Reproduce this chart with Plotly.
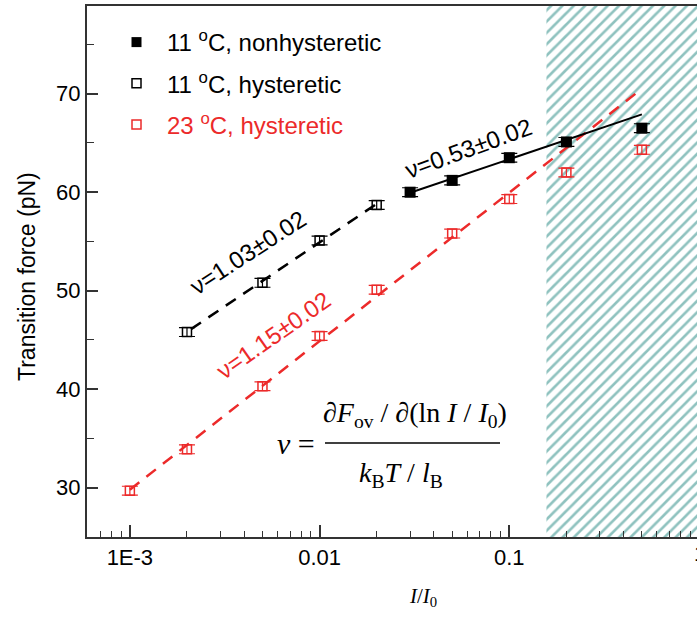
import plotly.graph_objects as go

# ---------------- data ----------------
nonhyst_x = [0.03, 0.05, 0.1, 0.2, 0.5]
nonhyst_y = [60.0, 61.2, 63.5, 65.1, 66.5]

hyst11_x = [0.002, 0.005, 0.01, 0.02]
hyst11_y = [45.8, 50.8, 55.1, 58.7]

hyst23_x = [0.001, 0.002, 0.005, 0.01, 0.02, 0.05, 0.1, 0.2, 0.5]
hyst23_y = [29.7, 33.9, 40.3, 45.4, 50.1, 55.8, 59.3, 62.0, 64.3]

err_nonhyst = [0.45] * len(nonhyst_x)
err_hyst11 = [0.45] * len(hyst11_x)
err_hyst23 = [0.45] * len(hyst23_x)

# fitted lines (end points)
fit_nonhyst_x = [0.03, 0.5]
fit_nonhyst_y = [59.95, 67.9]
fit_hyst11_x = [0.0021, 0.021]
fit_hyst11_y = [46.1, 59.1]
fit_hyst23_x = [0.001, 0.5]
fit_hyst23_y = [29.8, 70.5]

# hatched region (overstretching regime)
hatch_x = [0.157, 3, 3, 0.157, 0.157]
hatch_y = [20, 20, 85, 85, 20]

x_tickvals = [0.001, 0.01, 0.1, 1]
x_ticktext = ["1E-3", "0.01", "0.1", "1"]
y_tickvals = [30, 40, 50, 60, 70]

RED = "#ec2a2a"
TEAL = "#1f8580"
SANS = "Liberation Sans, Arial, sans-serif"
SERIF = "Liberation Serif, Times New Roman, serif"

W, H = 697, 623
ML, MR, MT, MB = 87, 0, 6, 86
PW, PH = W - ML - MR, H - MT - MB


def px(xp):
    return (xp - ML) / PW


def py(yp):
    return (H - MB - yp) / PH


fig = go.Figure()

fig.add_trace(go.Scatter(
    x=hatch_x, y=hatch_y, mode="lines", fill="toself",
    line=dict(width=0), fillcolor="rgba(255,255,255,0)",
    fillpattern=dict(shape="/", fgcolor=TEAL, bgcolor="rgba(255,255,255,0)",
                     size=8, solidity=0.33),
    showlegend=False, hoverinfo="skip"))

# fit lines
fig.add_trace(go.Scatter(x=fit_hyst23_x, y=fit_hyst23_y, mode="lines",
                         line=dict(color=RED, width=2.5, dash="12px,9px"),
                         showlegend=False))
fig.add_trace(go.Scatter(x=fit_hyst11_x, y=fit_hyst11_y, mode="lines",
                         line=dict(color="black", width=2.5, dash="12px,9px"),
                         showlegend=False))
fig.add_trace(go.Scatter(x=fit_nonhyst_x, y=fit_nonhyst_y, mode="lines",
                         line=dict(color="black", width=2),
                         showlegend=False))

# data with error bars
fig.add_trace(go.Scatter(
    x=hyst23_x, y=hyst23_y, mode="markers",
    marker=dict(symbol="square-open", size=9, color=RED, line=dict(width=1.5, color=RED)),
    error_y=dict(type="data", array=err_hyst23, color=RED, thickness=1.2, width=8),
    showlegend=False))
fig.add_trace(go.Scatter(
    x=hyst11_x, y=hyst11_y, mode="markers",
    marker=dict(symbol="square-open", size=9, color="black", line=dict(width=1.5, color="black")),
    error_y=dict(type="data", array=err_hyst11, color="black", thickness=1.2, width=8),
    showlegend=False))
fig.add_trace(go.Scatter(
    x=nonhyst_x, y=nonhyst_y, mode="markers",
    marker=dict(symbol="square", size=11, color="black"),
    error_y=dict(type="data", array=err_nonhyst, color="black", thickness=1.2, width=8),
    showlegend=False))

# legend-only entries
fig.add_trace(go.Scatter(x=[None], y=[None], mode="markers", legendgroup="a",
                         name="11 <sup>o</sup>C, nonhysteretic",
                         marker=dict(symbol="square", size=10, color="black")))
fig.add_trace(go.Scatter(x=[None], y=[None], mode="markers", legendgroup="b",
                         name="11 <sup>o</sup>C, hysteretic",
                         marker=dict(symbol="square-open", size=9, color="black",
                                     line=dict(width=1.5))))
fig.add_trace(go.Scatter(x=[None], y=[None], mode="markers", legendgroup="c",
                         name="<span style='color:%s'>23 <sup>o</sup>C, hysteretic</span>" % RED,
                         marker=dict(symbol="square-open", size=9, color=RED,
                                     line=dict(width=1.5, color=RED))))

annotations = [
    dict(text="ν=1.03±0.02", x=px(248), y=py(253), textangle=-33,
         font=dict(family=SANS, size=24, color="black")),
    dict(text="ν=1.15±0.02", x=px(273), y=py(335), textangle=-35,
         font=dict(family=SANS, size=24, color=RED)),
    dict(text="ν=0.53±0.02", x=px(468), y=py(148), textangle=-20,
         font=dict(family=SANS, size=24, color="black")),
    # formula
    dict(text="<i>ν</i> =", x=px(296), y=py(443),
         font=dict(family=SERIF, size=30, color="black")),
    dict(text="∂<i>F</i><sub>ov</sub> / ∂(ln <i>I</i> / <i>I</i><sub>0</sub>)",
         x=px(415), y=py(414), font=dict(family=SERIF, size=28, color="black")),
    dict(text="<i>k</i><sub>B</sub><i>T</i> / <i>l</i><sub>B</sub>",
         x=px(401), y=py(474), font=dict(family=SERIF, size=28, color="black")),
    # x axis title
    dict(text="<i>I</i>/<i>I</i><sub>0</sub>", x=px(423), y=py(597),
         font=dict(family=SERIF, size=21, color="black")),
    # y axis title
    dict(text="Transition force (pN)", x=px(27), y=py(277), textangle=-90,
         font=dict(family=SANS, size=23, color="black")),
    # cut-off tick label "1"
    dict(text="1", x=px(700), y=py(553), xanchor="center",
         font=dict(family=SANS, size=22, color="black")),
]
for a in annotations:
    a.setdefault("xref", "paper")
    a.setdefault("yref", "paper")
    a.setdefault("showarrow", False)
    a.setdefault("xanchor", "center")
    a.setdefault("yanchor", "middle")

fig.update_layout(
    width=W, height=H,
    margin=dict(l=ML, r=MR, t=MT, b=MB, pad=0, autoexpand=False),
    paper_bgcolor="white", plot_bgcolor="white",
    font=dict(family=SANS, size=22, color="black"),
    showlegend=True,
    legend=dict(x=px(106), y=py(20), xanchor="left", yanchor="top",
                bgcolor="rgba(0,0,0,0)", font=dict(family=SANS, size=24),
                tracegroupgap=7, itemwidth=51, traceorder="grouped"),
    annotations=annotations,
    shapes=[dict(type="line", xref="paper", yref="paper",
                 x0=px(325), x1=px(500), y0=py(443), y1=py(443),
                 line=dict(color="black", width=1.5))],
)

fig.update_xaxes(
    type="log", range=[-3.226, -0.0105], automargin=False,
    showline=True, linecolor="#333", linewidth=2, mirror=True,
    showgrid=False, zeroline=False,
    tickvals=x_tickvals, ticktext=x_ticktext,
    ticks="inside", ticklen=12, tickwidth=1.5, tickcolor="#333",
    minor=dict(ticks="inside", ticklen=6, tickwidth=1.2, tickcolor="#333",
               dtick="D1", showgrid=False),
    tickfont=dict(family=SANS, size=22),
)
fig.update_yaxes(
    range=[25, 78.9], automargin=False,
    showline=True, linecolor="#333", linewidth=2, mirror=True,
    showgrid=False, zeroline=False,
    tickvals=y_tickvals,
    ticks="inside", ticklen=11, tickwidth=1.5, tickcolor="#333",
    minor=dict(ticks="inside", ticklen=7, tickwidth=1.2, tickcolor="#333",
               dtick=5, showgrid=False),
    tickfont=dict(family=SANS, size=22),
)

fig.write_html(
    "out.html",
    config={"displayModeBar": False},
    post_script="document.body.style.margin='0';document.body.style.overflow='hidden';",
)
